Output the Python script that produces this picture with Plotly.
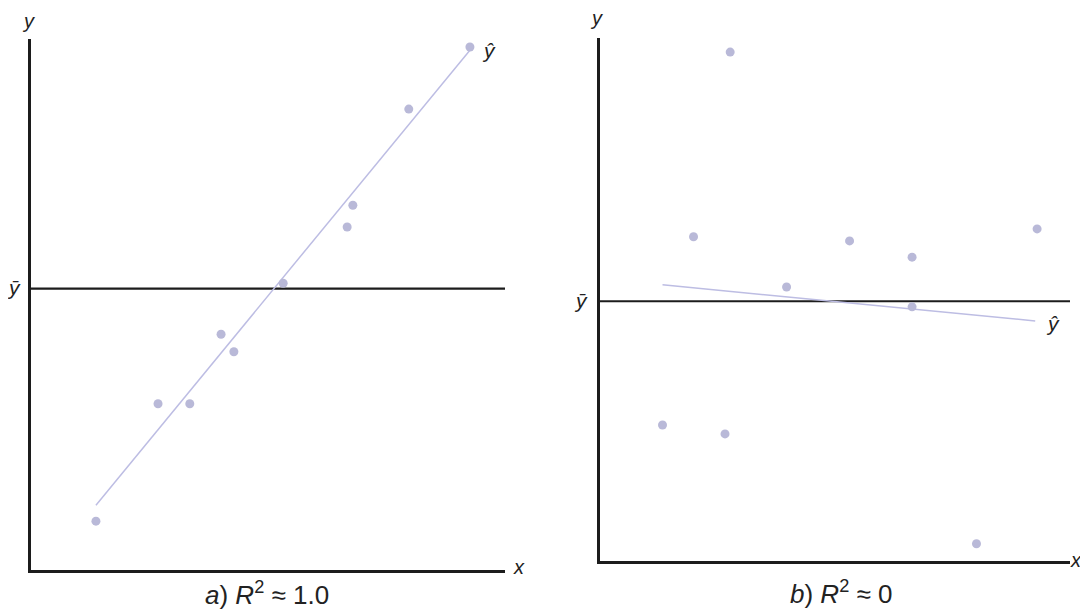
import numpy as np
import plotly.graph_objects as go

# panel a: strong linear relation (R^2 ~ 1)
a_x = [1.37, 2.68, 3.35, 4.01, 4.28, 5.32, 6.67, 6.79, 7.97, 9.26]
a_y = [0.92, 3.13, 3.13, 4.44, 4.11, 5.40, 6.46, 6.87, 8.68, 9.85]
a_fit_x = [1.37, 9.26]
a_fit_y = [1.22, 9.79]

# panel b: no relation (R^2 ~ 0)
b_x = [2.77, 1.99, 5.31, 6.64, 9.30, 3.97, 6.64, 1.33, 2.66, 8.01]
b_y = [9.73, 6.20, 6.12, 5.81, 6.35, 5.24, 4.86, 2.60, 2.43, 0.33]
b_fit_x = [1.33, 9.26]
b_fit_y = [5.28, 4.59]

axis_span = [0, 10]

# page body has an 8px margin, so the figure is a bit smaller than the window
OFF = 8
W, H = 1088 - OFF, 610 - OFF
POINT = "#b9b9d8"
FIT = "#bdbde3"
INK = "#1c1c1c"
FONT = "Liberation Sans"


def px(x):
    return (x - OFF) / W


def py(y):
    return 1 - (y - OFF) / H


fig = go.Figure()


def add_panel(fig, xs, ys, fit_x, fit_y, xa, ya):
    ybar = float(np.mean(ys))
    fig.add_trace(go.Scatter(x=axis_span, y=[ybar, ybar], mode="lines",
                             line=dict(color=INK, width=2.2),
                             xaxis=xa, yaxis=ya, hoverinfo="skip"))
    fig.add_trace(go.Scatter(x=fit_x, y=fit_y, mode="lines",
                             line=dict(color=FIT, width=1.5),
                             xaxis=xa, yaxis=ya, hoverinfo="skip"))
    fig.add_trace(go.Scatter(x=xs, y=ys, mode="markers",
                             marker=dict(color=POINT, size=9),
                             cliponaxis=False, xaxis=xa, yaxis=ya))


add_panel(fig, a_x, a_y, a_fit_x, a_fit_y, "x", "y")
add_panel(fig, b_x, b_y, b_fit_x, b_fit_y, "x2", "y2")

axis_style = dict(range=axis_span, showgrid=False, zeroline=False,
                  showticklabels=False, ticks="", showline=True,
                  linecolor=INK, linewidth=2.6, fixedrange=True)

fig.update_layout(
    width=W, height=H,
    margin=dict(l=0, r=0, t=0, b=0),
    paper_bgcolor="white", plot_bgcolor="white",
    showlegend=False,
    font=dict(family=FONT, color="#222222"),
    xaxis=dict(domain=[px(31), px(505)], anchor="y", **axis_style),
    yaxis=dict(domain=[py(570), py(39)], anchor="x", **axis_style),
    xaxis2=dict(domain=[px(600), px(1070)], anchor="y2", **axis_style),
    yaxis2=dict(domain=[py(561), py(38)], anchor="x2", **axis_style),
)

labels = [
    ("<i>y</i>", 28, 21, 20),
    ("<i>x</i>", 519, 567, 20),
    ("<i>ȳ</i>", 14, 288, 21),
    ("<i>ŷ</i>", 489, 50, 21),
    ("<i>a</i>) <i>R</i><sup>2</sup> ≈ 1.0", 267, 593, 26),
    ("<i>y</i>", 596, 18, 20),
    ("<i>x</i>", 1076, 560, 20),
    ("<i>ȳ</i>", 581, 300, 21),
    ("<i>ŷ</i>", 1053, 323, 21),
    ("<i>b</i>) <i>R</i><sup>2</sup> ≈ 0", 841, 592, 26),
]
for text, x, y, size in labels:
    fig.add_annotation(text=text, x=px(x), y=py(y), xref="paper", yref="paper",
                       showarrow=False, xanchor="center", yanchor="middle",
                       font=dict(size=size, family=FONT, color="#222222"))

fig.write_html("out.html")
